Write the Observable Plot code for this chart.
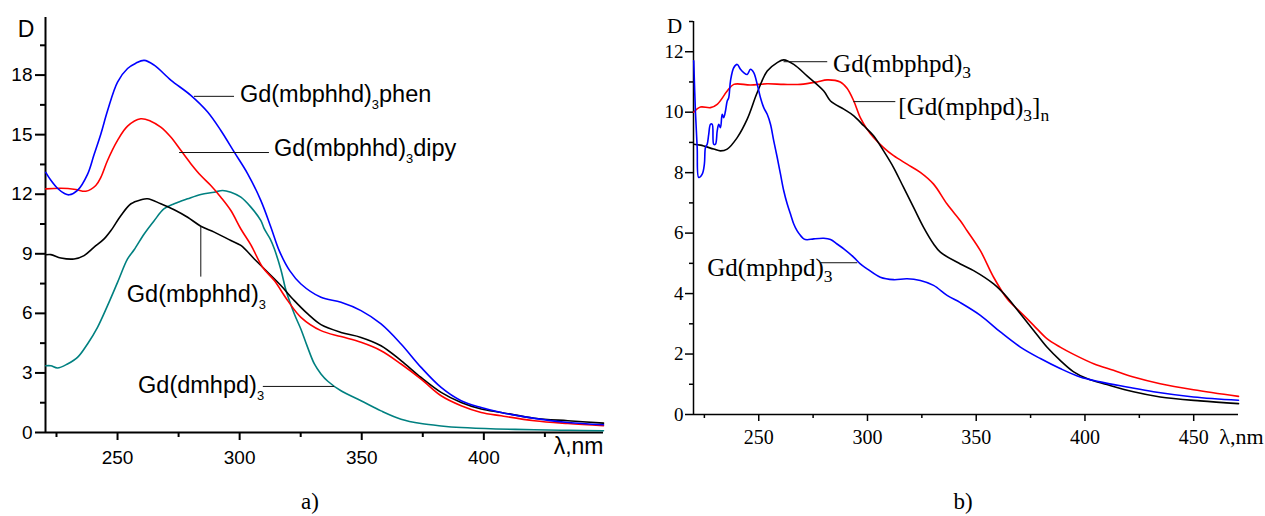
<!DOCTYPE html>
<html><head><meta charset="utf-8">
<script src="https://cdn.jsdelivr.net/npm/d3@7"></script>
<script src="https://cdn.jsdelivr.net/npm/@observablehq/plot@0.6"></script>
<style>
body{margin:0;background:#fff}
#wrap{position:relative;width:1265px;height:516px;background:#fff;overflow:hidden}
.cap{position:absolute;font-family:"Liberation Serif","Times New Roman",serif;font-size:23px;line-height:23px;color:#000;text-align:center;width:60px}
</style></head><body>
<div id="wrap">
  <div id="pa" style="position:absolute;left:0;top:0"></div>
  <div id="pb" style="position:absolute;left:640px;top:0"></div>
  <div class="cap" style="left:280px;top:490px">a)</div>
  <div class="cap" style="left:933px;top:490px">b)</div>
</div>
<script>
// ---------- Panel a data: [wavelength nm, D] ----------
const aPhen = [[220.6,13.1],[222.7,12.7],[225.4,12.3],[228.1,12.05],[230.2,11.97],[233.6,12.19],[237.7,13.0],[240.4,14.0],[243.2,15.05],[245.9,16.2],[250,17.65],[254.1,18.33],[257.5,18.6],[260.9,18.74],[265,18.5],[271.8,17.75],[280,16.98],[286.9,16.14],[292.3,15.21],[297.8,14.12],[303.3,13.03],[308.7,11.68],[312.8,10.34],[316.2,9.16],[320.5,8.15],[325.1,7.48],[333.3,6.81],[341.5,6.56],[349.7,6.14],[357.9,5.47],[366.1,4.46],[374.3,3.28],[382.5,2.27],[390.7,1.60],[398.9,1.26],[407.1,1.01],[420.7,0.71],[434.4,0.50],[449,0.39]];
const aDipy = [[220.6,12.27],[226.8,12.3],[232.9,12.24],[237,12.15],[241.1,12.44],[243.2,12.86],[245.9,13.7],[250,14.71],[254.1,15.43],[259.5,15.8],[263.6,15.68],[267.7,15.38],[271.8,14.88],[275.9,14.21],[280,13.54],[284.1,12.94],[288.2,12.44],[292.3,11.85],[296.4,11.18],[300.5,10.25],[304.6,9.45],[309.4,8.32],[314.2,7.65],[319.7,6.64],[325.1,5.8],[333.3,5.13],[341.5,4.83],[349.7,4.54],[357.9,4.12],[366.1,3.45],[374.3,2.69],[382.5,1.85],[390.7,1.35],[398.9,1.01],[407.1,0.84],[420.7,0.59],[434.4,0.45],[449,0.34]];
const aMbphhd = [[220.6,8.95],[222.7,8.96],[226.8,8.79],[232.2,8.74],[236.3,8.91],[240.4,9.33],[244.5,9.75],[247.3,10.17],[251.4,10.93],[255.5,11.52],[259.6,11.72],[262.3,11.77],[267.7,11.52],[273.2,11.22],[278.7,10.84],[284.1,10.39],[289.6,10.09],[296.4,9.67],[300.5,9.42],[306,8.74],[311.5,8.07],[316.9,7.40],[322.4,6.64],[327.9,5.97],[333.3,5.43],[341.5,5.04],[349.7,4.79],[357.9,4.37],[366.1,3.62],[374.3,2.77],[382.5,2.02],[390.7,1.51],[398.9,1.18],[407.1,1.01],[420.7,0.72],[434.4,0.59],[449,0.47]];
const aDmhpd = [[220.6,3.36],[222.7,3.36],[225.4,3.25],[229.5,3.45],[233.6,3.78],[237.7,4.46],[241.8,5.30],[245.9,6.39],[250,7.56],[254.1,8.74],[256.8,9.2],[260.9,10.0],[265,10.67],[269.1,11.27],[273.2,11.52],[278.7,11.77],[284.1,11.99],[289.6,12.10],[293,12.19],[296.4,12.10],[300.5,11.85],[304.6,11.35],[308.7,10.67],[310.1,10.25],[312.5,9.75],[314.2,9.25],[316.9,8.2],[319,7.15],[322.4,5.97],[325.1,5.2],[327.5,4.4],[330.6,3.45],[333.3,2.95],[336.1,2.58],[341.5,2.10],[349.7,1.60],[357.9,1.09],[366.1,0.67],[374.3,0.45],[382.5,0.33],[390.7,0.25],[405,0.18],[420.7,0.14],[435,0.11],[449,0.09]];

// ---------- Panel b data ----------
const bMbphpd = [[220.1,8.94],[223.2,8.91],[229.3,8.78],[232.4,8.72],[235.5,8.78],[240.1,9.16],[244.7,9.77],[249.3,10.65],[253.9,11.36],[258.5,11.64],[261.5,11.73],[266.1,11.58],[272.2,11.2],[279.9,10.7],[283,10.37],[289.1,10.1],[293.7,9.88],[298.3,9.55],[302.8,9.22],[307.4,8.72],[312,8.17],[316.6,7.51],[321.2,6.85],[325.8,6.19],[330.4,5.64],[333.5,5.37],[342.7,4.98],[348.8,4.76],[358,4.32],[364.2,3.88],[370.3,3.33],[376.4,2.78],[382.5,2.23],[388.6,1.79],[394.8,1.41],[400.9,1.19],[410.1,0.99],[422.3,0.75],[434.6,0.58],[453,0.45],[470.6,0.36]];
const bPoly = [[220.1,10.0],[223.2,10.17],[227.8,10.15],[230.9,10.26],[235.5,10.7],[238.5,10.92],[246.2,10.9],[253.9,10.94],[261.5,10.92],[269.2,10.92],[276.8,11.0],[281.4,11.07],[287.5,11.0],[290.6,10.79],[293.7,10.37],[296.7,9.82],[299.8,9.44],[302.8,9.16],[307.4,8.83],[312,8.56],[318.2,8.28],[324.3,8.01],[330.4,7.62],[336.6,6.96],[342.7,6.41],[345.8,6.08],[351.9,5.42],[358,4.54],[364.2,3.83],[370.3,3.39],[376.4,2.95],[382.5,2.51],[388.6,2.23],[394.8,1.99],[404,1.68],[413.1,1.46],[422.3,1.24],[434.6,1.02],[449.9,0.82],[470.6,0.60]];
const bMphpd = [[220.1,11.7],[220.9,10.0],[221.7,8.83],[222.4,7.84],[224.0,7.95],[225.0,8.28],[225.5,8.83],[226.3,8.94],[227.0,9.27],[227.8,9.60],[228.6,9.60],[229.3,8.94],[230.1,8.94],[230.9,9.38],[231.6,9.60],[232.4,9.49],[233.2,9.93],[233.9,9.82],[234.7,10.04],[235.5,10.37],[236.2,10.48],[237.0,11.03],[238.5,11.47],[240.1,11.58],[241.6,11.42],[243.1,11.31],[244.7,11.25],[246.2,11.42],[247.7,11.31],[249.3,10.92],[250.8,10.48],[252.3,10.15],[253.9,9.93],[255.4,9.60],[256.9,9.05],[258.5,8.50],[260,7.95],[261.5,7.40],[263.1,6.96],[264.6,6.63],[266.1,6.30],[267.6,6.08],[269.2,5.92],[270.7,5.81],[272.2,5.78],[275.3,5.81],[279.9,5.83],[283,5.79],[286,5.64],[289.1,5.48],[293.7,5.20],[296.7,4.98],[299.8,4.82],[305.9,4.54],[312,4.46],[318.2,4.49],[324.3,4.43],[330.4,4.27],[336.6,3.94],[342.7,3.7],[351.9,3.28],[361.1,2.73],[370.3,2.23],[379.5,1.85],[388.6,1.52],[397.8,1.24],[407.0,1.08],[419.3,0.91],[431.5,0.75],[449.9,0.58],[470.6,0.47]];

// ---------- axes ----------
const xDomA = [220.5, 449], yDomA = [0, 20.9];
const xMajorA = [250, 300, 350, 400], xMinorA = [225, 275, 325, 375, 425];
const yMajorA = [0, 3, 6, 9, 12, 15, 18], yMinorA = [1.5, 4.5, 7.5, 10.5, 13.5, 16.5, 19.5];
const xDomB = [220, 470.6], yDomB = [0, 13];
const xMajorB = [250, 300, 350, 400, 450], xMinorB = [225, 275, 325, 375, 425];
const yMajorB = [0, 2, 4, 6, 8, 10, 12], yMinorB = [1, 3, 5, 7, 9, 11, 13];

// ---------- annotations ----------
const labelsA = [
  {text: "Gd(mbphhd)_3phen", nm: 300.1, D: 17.0},
  {text: "Gd(mbphhd)_3dipy", nm: 314.1, D: 14.29},
  {text: "Gd(mbphhd)_3", nm: 253.8, D: 6.97},
  {text: "Gd(dmhpd)_3", nm: 258.4, D: 2.38}
];
const leadersA = [
  {nm1: 281.3, D1: 16.93, nm2: 297.7, D2: 16.93},
  {nm1: 275.2, D1: 14.1, nm2: 312.0, D2: 14.1},
  {nm1: 284.1, D1: 10.37, nm2: 284.1, D2: 7.85},
  {nm1: 309.5, D1: 2.32, nm2: 338.7, D2: 2.32}
];
const labelsB = [
  {text: "Gd(mbphpd)_3", nm: 284.2, D: 11.61},
  {text: "[Gd(mphpd)_3]_n", nm: 314.2, D: 10.18},
  {text: "Gd(mphpd)_3", nm: 226.3, D: 4.85}
];
const leadersB = [
  {nm1: 261.4, D1: 11.67, nm2: 281.5, D2: 11.67},
  {nm1: 293.5, D1: 10.35, nm2: 312.8, D2: 10.35},
  {nm1: 278.3, D1: 5.02, nm2: 295.3, D2: 5.02}
];

function subscripts(svg, fs, ratio, shift) {
  svg.querySelectorAll("text").forEach(t => {
    const s = t.textContent;
    if (!s.includes("_")) return;
    t.textContent = "";
    const parts = s.split(/_(.)/);
    let shifted = false;
    parts.forEach((p, i) => {
      if (!p) return;
      const ts = document.createElementNS("http://www.w3.org/2000/svg", "tspan");
      ts.textContent = p;
      if (i % 2) { ts.setAttribute("font-size", fs * ratio); ts.setAttribute("dy", shift); shifted = true; }
      else if (shifted) { ts.setAttribute("dy", -shift); shifted = false; }
      t.appendChild(ts);
    });
  });
}

const ln = (data, color) => Plot.line(data, {x: d => d[0], y: d => d[1], stroke: color, strokeWidth: 1.6, curve: "catmull-rom"});

const sansFont = "'Liberation Sans', Arial, sans-serif";
const serifFont = "'Liberation Serif', 'Times New Roman', serif";

const plotA = Plot.plot({
  width: 640, height: 470, marginLeft: 45, marginRight: 37, marginTop: 17, marginBottom: 38,
  style: {fontFamily: sansFont, fontSize: "19px", color: "#000", background: "#fff", overflow: "visible"},
  x: {domain: xDomA, label: null},
  y: {domain: yDomA, label: null},
  marks: [
    Plot.axisY({ticks: yMajorA, tickSize: 10, tickPadding: 3, strokeWidth: 2, fontSize: 19, label: null}),
    Plot.axisY({ticks: yMinorA, tickSize: 5, tickFormat: () => "", strokeWidth: 2, label: null}),
    Plot.axisX({ticks: xMajorA, tickSize: 8, tickPadding: 10, strokeWidth: 2, fontSize: 19, label: null}),
    Plot.axisX({ticks: xMinorA, tickSize: 5, tickFormat: () => "", strokeWidth: 2, label: null}),
    Plot.ruleX([xDomA[0]], {strokeWidth: 2}),
    Plot.ruleY([yDomA[0]], {strokeWidth: 2}),
    ln(aDmhpd, "#008080"),
    ln(aMbphhd, "#000000"),
    ln(aDipy, "#ff0000"),
    ln(aPhen, "#0000ff"),
    Plot.link(leadersA, {x1: "nm1", y1: "D1", x2: "nm2", y2: "D2", stroke: "#111", strokeWidth: 1}),
    Plot.text(labelsA, {x: "nm", y: "D", text: "text", textAnchor: "start", lineAnchor: "middle", fontSize: 23.5, fontFamily: sansFont}),
    Plot.text(["D"], {frameAnchor: "top-left", textAnchor: "middle", lineAnchor: "middle", dx: -19.5, dy: 12, fontSize: 23, fontFamily: sansFont}),
    Plot.text(["λ,nm"], {frameAnchor: "bottom-right", textAnchor: "end", lineAnchor: "middle", dy: 14, fontSize: 23, fontFamily: sansFont})
  ]
});
subscripts(plotA, 23.5, 0.55, 7);
document.getElementById("pa").appendChild(plotA);

const plotB = Plot.plot({
  width: 625, height: 470, marginLeft: 53, marginRight: 27, marginTop: 21, marginBottom: 56,
  style: {fontFamily: serifFont, fontSize: "19px", color: "#000", background: "#fff", overflow: "visible"},
  x: {domain: xDomB, label: null},
  y: {domain: yDomB, label: null},
  marks: [
    Plot.axisY({ticks: yMajorB, tickSize: 8, tickPadding: 2, strokeWidth: 1.5, fontSize: 19, label: null}),
    Plot.axisY({ticks: yMinorB, tickSize: 4, tickFormat: () => "", strokeWidth: 1.5, label: null}),
    Plot.axisX({ticks: xMajorB, tickSize: 7, tickPadding: 8, strokeWidth: 1.5, fontSize: 20, label: null}),
    Plot.axisX({ticks: xMinorB, tickSize: 4, tickFormat: () => "", strokeWidth: 1.5, label: null}),
    Plot.ruleX([xDomB[0]], {strokeWidth: 1.5}),
    Plot.ruleY([yDomB[0]], {strokeWidth: 1.5}),
    ln(bPoly, "#ff0000"),
    ln(bMbphpd, "#000000"),
    ln(bMphpd, "#0000ff"),
    Plot.link(leadersB, {x1: "nm1", y1: "D1", x2: "nm2", y2: "D2", stroke: "#111", strokeWidth: 1}),
    Plot.text(labelsB, {x: "nm", y: "D", text: "text", textAnchor: "start", lineAnchor: "middle", fontSize: 25, fontFamily: serifFont}),
    Plot.text(["D"], {frameAnchor: "top-left", textAnchor: "middle", lineAnchor: "middle", dx: -19, dy: 5, fontSize: 21, fontFamily: serifFont}),
    Plot.text(["λ,nm"], {frameAnchor: "bottom-right", textAnchor: "end", lineAnchor: "middle", dx: 25, dy: 22, fontSize: 22, fontFamily: serifFont})
  ]
});
subscripts(plotB, 25, 0.7, 6);
document.getElementById("pb").appendChild(plotB);
</script>
</body></html>
